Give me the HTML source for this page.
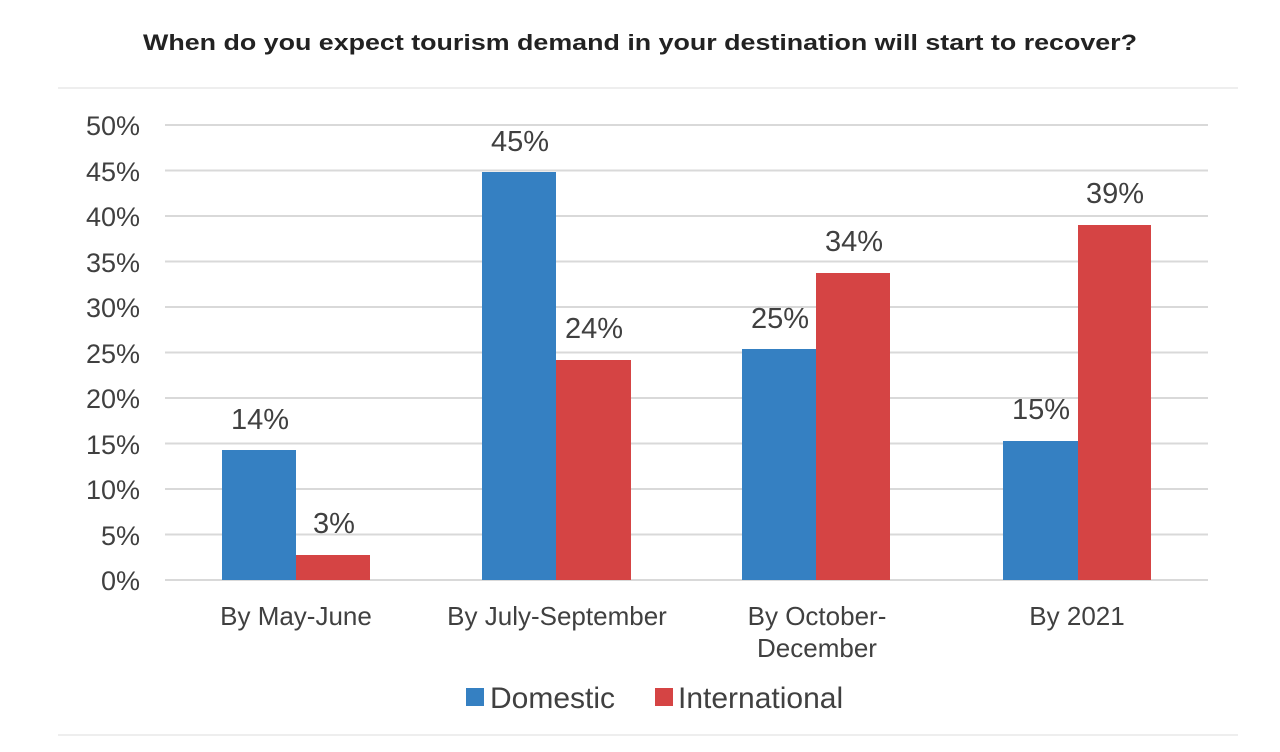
<!DOCTYPE html>
<html><head><style>
body{margin:0;background:#fff;}
svg{display:block;font-family:"Liberation Sans",Arial,sans-serif;}
</style></head><body>
<svg width="1280" height="752" viewBox="0 0 1280 752">
<rect width="1280" height="752" fill="#fff"/>
<text x="143" y="50" font-size="22" font-weight="bold" fill="#222" textLength="994" lengthAdjust="spacingAndGlyphs">When do you expect tourism demand in your destination will start to recover?</text>
<line x1="58" y1="88" x2="1238" y2="88" stroke="#eee" stroke-width="2"/>
<line x1="58" y1="735" x2="1238" y2="735" stroke="#eee" stroke-width="2"/>
<g stroke="#d9d9d9" stroke-width="2">
<line x1="165" x2="1208" y1="125" y2="125"/><line x1="165" x2="1208" y1="170.5" y2="170.5"/>
<line x1="165" x2="1208" y1="216" y2="216"/><line x1="165" x2="1208" y1="261.5" y2="261.5"/>
<line x1="165" x2="1208" y1="307" y2="307"/><line x1="165" x2="1208" y1="352.5" y2="352.5"/>
<line x1="165" x2="1208" y1="398" y2="398"/><line x1="165" x2="1208" y1="443.5" y2="443.5"/>
<line x1="165" x2="1208" y1="489" y2="489"/><line x1="165" x2="1208" y1="534.5" y2="534.5"/>
<line x1="165" x2="1208" y1="580" y2="580"/>
</g>
<g font-size="27" fill="#404040" text-anchor="end">
<text x="140" y="135">50%</text><text x="140" y="181">45%</text><text x="140" y="226">40%</text>
<text x="140" y="272">35%</text><text x="140" y="317">30%</text><text x="140" y="363">25%</text>
<text x="140" y="408">20%</text><text x="140" y="454">15%</text><text x="140" y="499">10%</text>
<text x="140" y="545">5%</text><text x="140" y="590">0%</text>
</g>
<g fill="#3580c2">
<rect x="222" y="450" width="74" height="130"/>
<rect x="482" y="172" width="74" height="408"/>
<rect x="742" y="349" width="74" height="231"/>
<rect x="1003" y="441" width="75" height="139"/>
</g>
<g fill="#d54444">
<rect x="296" y="555" width="74" height="25"/>
<rect x="556" y="360" width="75" height="220"/>
<rect x="816" y="273" width="74" height="307"/>
<rect x="1078" y="225" width="73" height="355"/>
</g>
<g font-size="29" fill="#404040" text-anchor="middle">
<text x="260" y="429">14%</text><text x="334" y="533">3%</text>
<text x="520" y="151">45%</text><text x="594" y="338">24%</text>
<text x="780" y="328">25%</text><text x="854" y="251">34%</text>
<text x="1041" y="419">15%</text><text x="1115" y="203">39%</text>
</g>
<g font-size="26" fill="#404040" text-anchor="middle">
<text x="296" y="625">By May-June</text>
<text x="557" y="625">By July-September</text>
<text x="817" y="625">By October-</text><text x="817" y="657">December</text>
<text x="1077" y="625">By 2021</text>
</g>
<rect x="466" y="688" width="18" height="18" fill="#3580c2"/>
<text x="490" y="708" font-size="30" fill="#404040">Domestic</text>
<rect x="655" y="688" width="18" height="18" fill="#d54444"/>
<text x="678" y="708" font-size="30" fill="#404040">International</text>
</svg>
</body></html>
